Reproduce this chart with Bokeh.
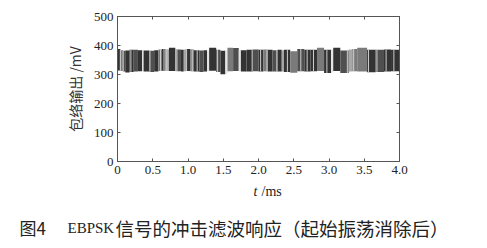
import math
import bisect
from bokeh.plotting import figure
from bokeh.layouts import column
from bokeh.models import LinearAxis, FixedTicker, Range1d
from bokeh.core.properties import value
from bokeh.embed import file_html
from bokeh.resources import INLINE

# ---- data ----
# envelope-detector output band: segment edges (ms), band top / bottom (mV), stripe shade
seg_edges = [0.00, 0.04, 0.08, 0.11, 0.17, 0.23, 0.29, 0.35, 0.37, 0.45,
             0.52, 0.58, 0.63, 0.68, 0.73, 0.82, 0.85, 0.90, 0.94, 0.97,
             1.03, 1.08, 1.16, 1.22, 1.27, 1.30, 1.40, 1.46, 1.53, 1.56,
             1.64, 1.72, 1.75, 1.83, 1.92, 2.00, 2.07, 2.13, 2.20, 2.27,
             2.33, 2.36, 2.45, 2.55, 2.65, 2.74, 2.83, 2.93, 3.03, 3.06,
             3.16, 3.28, 3.33, 3.40, 3.54, 3.66, 3.78, 3.88, 4.00]
seg_top = [388, 384, 382, 383, 385, 385, 384, 383, 383, 382,
           384, 386, 388, 387, 392, 387, 386, 385, 386, 388,
           387, 384, 383, 384, 383, 392, 385, 382, 384, 392,
           391, 385, 384, 385, 386, 385, 386, 385, 384, 385,
           384, 385, 380, 388, 385, 385, 392, 385, 386, 392,
           383, 386, 388, 392, 385, 385, 386, 385]
seg_bottom = [314, 312, 310, 307, 309, 310, 311, 311, 310, 309,
              310, 312, 313, 312, 312, 311, 311, 310, 311, 312,
              311, 310, 309, 310, 311, 313, 309, 301, 303, 311,
              312, 311, 310, 310, 311, 310, 311, 310, 310, 310,
              310, 309, 306, 311, 310, 311, 312, 305, 307, 312,
              305, 310, 311, 310, 308, 309, 310, 311]
seg_shade = [0, 2, 1, 0, 0, 1, 0, 4, 0, 1,
             0, 2, 0, 3, 0, 3, 1, 0, 3, 0,
             2, 0, 1, 0, 4, 0, 1, 0, 4, 2,
             1, 4, 0, 0, 1, 0, 2, 0, 1, 0,
             3, 0, 2, 1, 0, 0, 2, 0, 4, 0,
             1, 3, 2, 2, 0, 1, 0, 0]
shade_colors = ["#333333", "#4f4f4f", "#7a7a7a", "#a8a8a8", "#e4e4e4"]
# thin light streaks inside the band (ms)
streak_t = [0.04, 0.08, 0.19, 0.46, 0.61, 0.66, 0.70, 0.98, 1.06, 1.13,
            1.42, 1.91, 2.03, 2.12, 2.26, 2.41, 2.60, 2.69, 2.78, 2.97,
            3.26, 3.35, 3.56, 3.68, 3.81, 3.92]

x_ticks = [0, 0.5, 1.0, 1.5, 2.0, 2.5, 3.0, 3.5, 4.0]
x_tick_labels = ["0", "0.5", "1.0", "1.5", "2.0", "2.5", "3.0", "3.5", "4.0"]
y_ticks = [0, 100, 200, 300, 400, 500]
y_tick_labels = ["0", "100", "200", "300", "400", "500"]

y_title = "包络输出 /mV"
x_title_var = "t"
x_title_unit = "/ms"
caption_parts = ["图4", "EBPSK", "信号的冲击滤波响应（起始振荡消除后）"]

# ---- main chart ----
p = figure(width=487, height=178, x_range=Range1d(0, 4), y_range=Range1d(0, 500),
           output_backend="svg", toolbar_location=None,
           min_border_left=117, min_border_right=88, min_border_top=16, min_border_bottom=17)
p.background_fill_color = "white"
p.border_fill_color = "white"
p.outline_line_color = "#777777"
p.grid.visible = False

fill = [shade_colors[s] for s in seg_shade]
p.quad(left=seg_edges[:-1], right=seg_edges[1:], top=seg_top, bottom=seg_bottom,
       fill_color=fill, line_color=None)

# streaks span the band of the segment they fall in
idx = [min(bisect.bisect_right(seg_edges, t) - 1, len(seg_top) - 1) for t in streak_t]
p.segment(x0=streak_t, x1=streak_t,
          y0=[seg_bottom[i] for i in idx], y1=[seg_top[i] for i in idx],
          line_color="#cfcfcf", line_width=1)

def style_axis(ax, ticks, labels, show_labels=True):
    ax.ticker = FixedTicker(ticks=ticks)
    ax.major_label_overrides = {t: l for t, l in zip(ticks, labels)}
    ax.major_tick_in = 3
    ax.major_tick_out = 0
    ax.minor_tick_line_color = None
    ax.axis_line_color = "#555555"
    ax.major_tick_line_color = "#555555"
    ax.major_label_text_font = "Liberation Serif"
    ax.major_label_text_font_size = "13px"
    ax.major_label_text_color = "#222222" if show_labels else None

style_axis(p.xaxis[0], x_ticks, x_tick_labels)
p.xaxis[0].major_label_standoff = 4
style_axis(p.yaxis[0], y_ticks, y_tick_labels)
p.yaxis[0].major_label_standoff = 4
p.yaxis[0].axis_label = y_title
p.yaxis[0].axis_label_text_font = "Noto Sans CJK SC"
p.yaxis[0].axis_label_text_font_size = "14px"
p.yaxis[0].axis_label_text_font_style = "normal"
p.yaxis[0].axis_label_text_color = "#333333"
p.yaxis[0].axis_label_standoff = 6

top_ax = LinearAxis()
style_axis(top_ax, x_ticks, x_tick_labels, show_labels=False)
p.add_layout(top_ax, "above")
right_ax = LinearAxis()
style_axis(right_ax, y_ticks, y_tick_labels, show_labels=False)
p.add_layout(right_ax, "right")

# ---- text strip below: x-axis title and figure caption ----
q = figure(width=487, height=70, x_range=Range1d(0, 487), y_range=Range1d(70, 0),
           output_backend="svg", toolbar_location=None,
           x_axis_type=None, y_axis_type=None, min_border=0)
q.outline_line_color = None
q.grid.visible = False
q.background_fill_color = "white"
q.border_fill_color = "white"
for fig in (p, q):
    try:
        fig.frame_align = False
    except Exception:
        pass

q.text(x=[255], y=[13], text=[x_title_var], text_align="center", text_baseline="middle",
       text_font=value("Liberation Serif"), text_font_style="italic",
       text_font_size="14px", text_color="#222222")
q.text(x=[261], y=[13], text=[x_title_unit], text_align="left", text_baseline="middle",
       text_font=value("Liberation Serif"), text_font_size="14px", text_color="#222222")

q.text(x=[19], y=[49], text=[caption_parts[0]], text_align="left", text_baseline="middle",
       text_font=value("Noto Sans CJK SC"), text_font_size="17px", text_color="#222222")
q.text(x=[67], y=[49], text=[caption_parts[1]], text_align="left", text_baseline="middle",
       text_font=value("Liberation Serif"), text_font_size="15px", text_color="#222222")
q.text(x=[115], y=[49], text=[caption_parts[2]], text_align="left", text_baseline="middle",
       text_font=value("Noto Sans CJK SC"), text_font_size="18.5px", text_color="#222222")

open("out.html", "w").write(file_html(column(p, q, spacing=0), INLINE))
